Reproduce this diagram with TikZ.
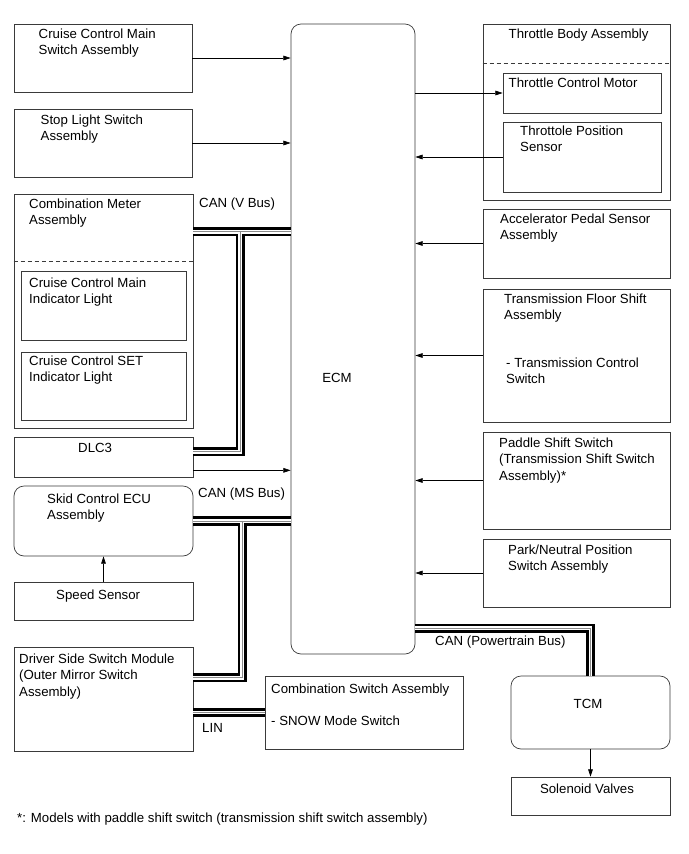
\documentclass[tikz,border=0pt]{standalone}
\usepackage{fontspec}
\setmainfont{Liberation Sans}
\usetikzlibrary{arrows.meta,positioning,calc,fit}
\definecolor{boxline}{HTML}{3A3A3A}
\definecolor{midwire}{HTML}{8A8A8A}
\tikzset{
  blk/.style={draw=boxline,line width=0.6pt,inner sep=0pt},
  rblk/.style={blk,rounded corners=0.3cm},
  txt/.style={anchor=north west,align=left,inner sep=0pt,
              font=\fontsize{11.3}{14.2}\selectfont},
  sig/.style={-{Triangle[length=2.2mm,width=1.4mm]},line width=0.6pt},
  sepline/.style={draw=boxline,line width=0.6pt,dash pattern=on 3.4pt off 2.6pt},
  canbus/.style={line width=0.8pt,draw=midwire,
                 preaction={draw=black,line width=7.8pt},
                 preaction={draw=white,line width=3.2pt}}
}
\begin{document}
\begin{tikzpicture}[x=0.03cm,y=-0.03cm]
  \useasboundingbox (0,0) rectangle (689,854);
  % left column
  \node[blk,fit={(14,24) (192,92)}] (ccsw) {};
  \node[blk,fit={(14,109) (192,177)}] (stop) {};
  \node[blk,fit={(14,194) (193,428)}] (meter) {};
  \node[blk,fit={(21,271) (186,340)}] (mind) {};
  \node[blk,fit={(21,352) (186,420)}] (sind) {};
  \node[blk,fit={(14,437) (193,477)}] (dlc) {};
  \node[rblk,fit={(14,486) (193,556)}] (skid) {};
  \node[blk,fit={(14,582) (193,620)}] (spd) {};
  \node[blk,fit={(14,647) (193,751)}] (drv) {};
  % centre
  \node[rblk,fit={(291,24) (415,654)}] (ecm) {};
  \node[blk,fit={(265,676) (463,749)}] (combsw) {};
  % right column
  \node[blk,fit={(483,24) (670,200)}] (thb) {};
  \node[blk,fit={(503,73) (661,113)}] (tcmot) {};
  \node[blk,fit={(503,122) (661,192)}] (tps) {};
  \node[blk,fit={(483,209) (670,278)}] (aps) {};
  \node[blk,fit={(483,289) (670,422)}] (tfs) {};
  \node[blk,fit={(483,432) (670,529)}] (pss) {};
  \node[blk,fit={(483,539) (670,607)}] (pnp) {};
  \node[rblk,fit={(511,676) (670,749)}] (tcm) {};
  \node[blk,fit={(511,777) (670,815)}] (sol) {};

  \draw[sepline] ($(meter.north west)+(0,68)$) -- ($(meter.north east)+(0,68)$);
  \draw[sepline] ($(thb.north west)+(0,40)$) -- ($(thb.north east)+(0,40)$);

  % labels
  \node[txt] (ccswl) at (38.5,28.4) {Cruise Control Main\\Switch Assembly};
  \node[txt] (stopl) at (40.5,114.4) {Stop Light Switch\\Assembly};
  \node[txt] (meterl) at (29,198.4) {Combination Meter\\Assembly};
  \node[txt] (mindl) at (29,277.4) {Cruise Control Main\\Indicator Light};
  \node[txt] (sindl) at (29,355.4) {Cruise Control SET\\Indicator Light};
  \node[txt] (dlcl) at (78,443.4) {DLC3};
  \node[txt] (skidl) at (47,493.4) {Skid Control ECU\\Assembly};
  \node[txt] (spdl) at (56,589.4) {Speed Sensor};
  \node[txt] (drvl) at (19,653.4) {Driver Side Switch Module\\(Outer Mirror Switch\\Assembly)};
  \node[txt,anchor=center] (ecml) at (337,378) {ECM};
  \node[txt] (combswl) at (271,683.4) {Combination Switch Assembly};
  \node[txt] (snowl) at (271,715.4) {- SNOW Mode Switch};
  \node[txt] (thbl) at (508.5,28.4) {Throttle Body Assembly};
  \node[txt] (tcmotl) at (508.5,77.4) {Throttle Control Motor};
  \node[txt] (tpsl) at (520,125.4) {Throttole Position\\Sensor};
  \node[txt] (apsl) at (500,213.4) {Accelerator Pedal Sensor\\Assembly};
  \node[txt] (tfsl) at (504,293.4) {Transmission Floor Shift\\Assembly};
  \node[txt] (tcswl) at (506,357.4) {- Transmission Control\\Switch};
  \node[txt] (pssl) at (499,437.4) {Paddle Shift Switch\\(Transmission Shift Switch\\Assembly)*};
  \node[txt] (pnpl) at (508,544.4) {Park/Neutral Position\\Switch Assembly};
  \node[txt,anchor=base] (tcml) at (588,708) {TCM};
  \node[txt,anchor=base] (soll) at (587,793) {Solenoid Valves};
  \node[txt] (vbusl) at (199,197.4) {CAN (V Bus)};
  \node[txt] (msbusl) at (198,487.4) {CAN (MS Bus)};
  \node[txt] (linl) at (202,723.4) {LIN};
  \node[txt] (ptbusl) at (435,635.4) {CAN (Powertrain Bus)};
  \node[txt] (notel) at (17,812.4) {*: Models with paddle shift switch (transmission shift switch assembly)};

  % signal lines
  \draw[sig] (ccsw.east) -- (ccsw.east -| ecm.west);
  \draw[sig] (stop.east) -- (stop.east -| ecm.west);
  \coordinate (dlcout) at ($(dlc.south east)+(0,-7)$);
  \draw[sig] (dlcout) -- (dlcout -| ecm.west);
  \draw[sig] (spd.north) -- (skid.south);
  \draw[sig] (ecm.east |- tcmot.west) -- (tcmot.west);
  \draw[sig] (tps.west) -- (tps.west -| ecm.east);
  \draw[sig] (aps.west) -- (aps.west -| ecm.east);
  \draw[sig] (tfs.west) -- (tfs.west -| ecm.east);
  \draw[sig] (pss.west) -- (pss.west -| ecm.east);
  \draw[sig] (pnp.west) -- (pnp.west -| ecm.east);
  \draw[sig] (tcm.south) -- (sol.north);

  % buses
  \coordinate (vbus) at ($(meter.north east)+(0,38)$);
  \coordinate (vtap) at ($(vbus)+(47,0)$);
  \coordinate (dlcin) at ($(dlc.north east)+(0,15)$);
  \draw[canbus] (vbus) -- (vbus -| ecm.west) (vtap) |- (dlcin);
  \coordinate (mtap) at ($(skid.east)+(49,0)$);
  \coordinate (drvin) at ($(drv.north east)+(0,31)$);
  \draw[canbus] (skid.east) -- (skid.east -| ecm.west) (mtap) |- (drvin);
  \draw[canbus] (combsw.west -| drv.east) -- (combsw.west);
  \coordinate (ptbus) at ($(ecm.south east)+(0,-26)$);
  \draw[canbus] (ptbus) -| (tcm.north);
\end{tikzpicture}
\end{document}
